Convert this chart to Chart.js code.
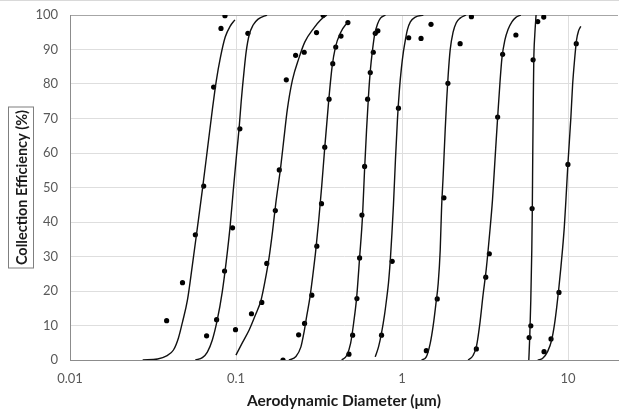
<!DOCTYPE html>
<html>
<head>
<meta charset="utf-8">
<script src="https://cdn.jsdelivr.net/npm/chart.js@4/dist/chart.umd.min.js"></script>
<style>
  html, body { margin: 0; padding: 0; background: #fff; overflow: hidden; }
  #wrap { width: 619px; height: 417px; overflow: hidden; }
</style>
</head>
<body>
<div id="wrap"><canvas id="chart" width="622" height="417"></canvas></div>
<script>
// axis ticks
const xTicks = [0.01, 0.1, 1, 10];
const yMin = 0, yMax = 100, yStep = 10;

// fitted curves, one pair per impactor stage
const stage1FitX = [0.0274, 0.0337, 0.0382, 0.0420, 0.0450, 0.0476, 0.0510, 0.0546, 0.0585, 0.0627, 0.0672, 0.0720, 0.0761, 0.0804, 0.0861, 0.0923, 0.0985];
const stage1FitY = [0, 0.3, 1.2, 2.9, 6.4, 11.0, 17.4, 27.5, 38.3, 49.3, 60.9, 72.5, 81.0, 87.5, 93.6, 96.8, 98.6];
const stage2FitX = [0.0569, 0.0627, 0.0672, 0.0720, 0.0771, 0.0826, 0.0873, 0.0923, 0.0962, 0.1003, 0.1045, 0.1074, 0.1120, 0.1151, 0.1200, 0.1268, 0.1359, 0.1538];
const stage2FitY = [0, 0.7, 2.3, 5.8, 11.6, 19.7, 28.5, 39.1, 49.0, 58.5, 67.5, 74.8, 84.1, 89.3, 94.2, 97.1, 98.8, 100];
const stage3FitX = [0.0999, 0.1089, 0.1200, 0.1303, 0.1416, 0.1496, 0.1581, 0.1660, 0.1735, 0.1858, 0.1945, 0.2036, 0.2188, 0.2393, 0.2599, 0.2943, 0.3242, 0.3522];
const stage3FitY = [1.4, 4.9, 8.7, 12.8, 17.4, 22.9, 29.6, 37.3, 45.3, 55.9, 64.3, 72.5, 81.2, 87.5, 92.2, 96.2, 98.6, 100];
const stage4FitX = [0.2084, 0.2296, 0.2460, 0.2563, 0.2672, 0.2785, 0.2903, 0.3025, 0.3154, 0.3287, 0.3426, 0.3621, 0.3789, 0.3972, 0.4255, 0.4559, 0.4838];
const stage4FitY = [0, 1.0, 3.8, 7.8, 13.0, 18.0, 24.6, 31.9, 40.8, 50.7, 61.7, 75.4, 84.9, 90.7, 94.8, 97.1, 98.0];
const stage5FitX = [0.4333, 0.4642, 0.4905, 0.5111, 0.5327, 0.5552, 0.5786, 0.5948, 0.6115, 0.6286, 0.6463, 0.6644, 0.6830, 0.7119, 0.7419, 0.7950];
const stage5FitY = [0, 1.3, 4.9, 10.7, 18.0, 29.6, 42.0, 55.1, 66.7, 76.8, 84.6, 89.9, 94.2, 97.4, 99.1, 100];
const stage6FitX = [0.6896, 0.7219, 0.7523, 0.7841, 0.8061, 0.8287, 0.8519, 0.8697, 0.8879, 0.9128, 0.9383, 0.9645, 0.9915, 1.0193, 1.0478, 1.0772, 1.1226, 1.2031, 1.3437];
const stage6FitY = [0.9, 3.8, 7.8, 13.0, 17.4, 22.3, 29.6, 36.8, 44.9, 58.0, 69.6, 78.3, 84.6, 89.3, 92.8, 95.7, 98.0, 99.4, 100];
const stage7FitX = [1.3122, 1.4001, 1.4796, 1.5423, 1.5965, 1.6526, 1.6986, 1.7294, 1.7704, 1.8200, 1.8581, 1.8970, 1.9502, 2.0327, 2.1187, 2.2387, 2.4322];
const stage7FitY = [0, 0.9, 4.9, 10.1, 15.9, 22.3, 31.9, 43.5, 53.6, 66.7, 75.4, 82.6, 89.9, 95.1, 97.7, 99.1, 100];
const stage8FitX = [2.5003, 2.6792, 2.8119, 2.9512, 3.0761, 3.2192, 3.3741, 3.5073, 3.6305, 3.7684, 3.8892, 3.9983, 4.1673, 4.3436, 4.5910, 4.8520, 5.1958];
const stage8FitY = [0, 1.3, 4.1, 11.0, 18.8, 26.5, 36.8, 46.4, 58.0, 70.4, 80.3, 87.5, 92.8, 95.7, 98.0, 99.3, 100];
const stage9FitX = [5.8046, 5.8853, 5.9672, 6.0502, 6.0921, 6.1344, 6.1769, 6.2198, 6.3063, 6.4193];
const stage9FitY = [0, 7.2, 17.4, 31.9, 43.5, 60.9, 75.4, 87.0, 94.2, 100];
const stage10FitX = [6.5724, 7.0408, 7.5443, 7.9714, 8.3088, 8.5421, 8.7798, 9.0632, 9.4993, 9.7119, 9.9839, 10.406, 10.654, 10.950, 11.257, 11.572, 11.944];
const stage10FitY = [0, 0.5, 2.5, 5.8, 10.7, 15.2, 20.3, 27.0, 38.6, 46.4, 56.8, 70.4, 79.7, 87.0, 92.8, 95.4, 96.7];

// measured points
const stage1DotX = [0.0382, 0.0476, 0.0569, 0.0639, 0.0733, 0.0812, 0.0858];
const stage1DotY = [11.4, 22.4, 36.3, 50.4, 79.1, 96.1, 99.8];
const stage2DotX = [0.0665, 0.0764, 0.0853, 0.0953, 0.1055, 0.1179];
const stage2DotY = [7.0, 11.7, 25.8, 38.3, 67.0, 94.7];
const stage3DotX = [0.0993, 0.1239, 0.1430, 0.1532, 0.1725, 0.1823, 0.2009, 0.2286, 0.2574, 0.3055, 0.3347];
const stage3DotY = [8.8, 13.4, 16.7, 28.0, 43.3, 55.1, 81.2, 88.3, 89.2, 94.9, 99.9];
const stage4DotX = [0.1919, 0.2383, 0.2588, 0.2863, 0.3068, 0.3273, 0.3425, 0.3636, 0.3826, 0.3988, 0.4290, 0.4720];
const stage4DotY = [0, 7.3, 10.6, 18.8, 33.0, 45.3, 61.7, 75.6, 85.9, 90.7, 93.9, 97.8];
const stage5DotX = [0.4791, 0.5041, 0.5350, 0.5553, 0.5734, 0.5952, 0.6204, 0.6439, 0.6713, 0.6900, 0.7153];
const stage5DotY = [1.7, 7.2, 17.8, 29.6, 42.0, 56.1, 75.6, 83.3, 89.2, 94.7, 95.4];
const stage6DotX = [0.7527, 0.8723, 0.9515, 1.097, 1.302, 1.495];
const stage6DotY = [7.2, 28.6, 73.0, 93.4, 93.2, 97.3];
const stage7DotX = [1.401, 1.630, 1.788, 1.890, 2.239, 2.618];
const stage7DotY = [2.7, 17.7, 47.0, 80.2, 91.7, 99.5];
const stage8DotX = [2.804, 3.194, 3.357, 3.768, 4.037, 4.852];
const stage8DotY = [3.2, 24.0, 30.8, 70.4, 88.6, 94.2];
const stage9DotX = [5.830, 5.968, 6.076, 6.160, 6.572, 7.140];
const stage9DotY = [6.5, 9.9, 43.9, 87.0, 98.1, 99.4];
const stage10DotX = [7.170, 7.900, 8.820, 9.986, 11.21];
const stage10DotY = [2.4, 6.1, 19.6, 56.7, 91.7];

const stages = [
  [stage1FitX, stage1FitY, stage1DotX, stage1DotY],
  [stage2FitX, stage2FitY, stage2DotX, stage2DotY],
  [stage3FitX, stage3FitY, stage3DotX, stage3DotY],
  [stage4FitX, stage4FitY, stage4DotX, stage4DotY],
  [stage5FitX, stage5FitY, stage5DotX, stage5DotY],
  [stage6FitX, stage6FitY, stage6DotX, stage6DotY],
  [stage7FitX, stage7FitY, stage7DotX, stage7DotY],
  [stage8FitX, stage8FitY, stage8DotX, stage8DotY],
  [stage9FitX, stage9FitY, stage9DotX, stage9DotY],
  [stage10FitX, stage10FitY, stage10DotX, stage10DotY],
];

const zip = (xs, ys) => xs.map((x, i) => ({ x, y: ys[i] }));

const lineSets = stages.map(([fx, fy]) => ({
  type: "line",
  data: zip(fx, fy),
  borderColor: "#111",
  borderWidth: 1.4,
  pointRadius: 0,
  fill: false,
  cubicInterpolationMode: "monotone",
}));

const dotSets = stages.map(([, , dx, dy]) => ({
  type: "scatter",
  data: zip(dx, dy),
  backgroundColor: "#000",
  borderWidth: 0,
  pointRadius: 2.6,
}));

const tickFont = { family: "Lato", size: 13 };
const titleFont = { family: "Lato", size: 15.5, weight: "bold" };

// boxed y title, drawn by hand (Chart.js has no border for axis titles)
const yTitleBox = {
  id: "yTitleBox",
  afterDraw(chart) {
    const { ctx, chartArea } = chart;
    const cy = (chartArea.top + chartArea.bottom) / 2;
    const text = "Collection Efficiency (%)";
    ctx.save();
    ctx.translate(21, cy);
    ctx.rotate(-Math.PI / 2);
    ctx.font = "bold 14.5px Lato";
    ctx.fillStyle = "#1a1a1a";
    ctx.textAlign = "center";
    ctx.textBaseline = "middle";
    ctx.fillText(text, 0, 1);
    const w = ctx.measureText(text).width + 6;
    ctx.strokeStyle = "#7f7f7f";
    ctx.lineWidth = 1;
    ctx.strokeRect(Math.round(-w / 2) + 0.5, -12.5, Math.round(w), 25);
    ctx.restore();
    // faint outer frame line at the very top
    ctx.save();
    ctx.strokeStyle = "#d9d9d9";
    ctx.beginPath();
    ctx.moveTo(0, 0.5);
    ctx.lineTo(chart.width, 0.5);
    ctx.stroke();
    ctx.restore();
  },
};

new Chart(document.getElementById("chart"), {
  data: { datasets: [...lineSets, ...dotSets] },
  options: {
    responsive: false,
    animation: false,
    layout: { padding: { top: 15, right: 1, left: 0, bottom: 0 } },
    plugins: { legend: { display: false }, tooltip: { enabled: false } },
    scales: {
      x: {
        type: "logarithmic",
        min: 0.01,
        max: 20,
        afterBuildTicks: (s) => { s.ticks = xTicks.map((v) => ({ value: v })); },
        afterFit: (s) => { s.height = 57; },
        ticks: {
          autoSkip: false,
          maxRotation: 0,
          padding: 11,
          color: "#595959",
          font: tickFont,
          callback: (v) => String(v),
        },
        grid: { color: "#dedede", drawTicks: false },
        border: { color: "#8c8c8c" },
        title: {
          display: true,
          text: "Aerodynamic Diameter (μm)",
          color: "#1a1a1a",
          font: titleFont,
          padding: { top: 0, bottom: 7 },
        },
      },
      y: {
        min: yMin,
        max: yMax,
        // fixed width, and no extra top/bottom room from the tick padding
        afterFit: (s) => { s.width = 70; s.paddingTop = 0; s.paddingBottom = 0; },
        ticks: { stepSize: yStep, padding: 12, color: "#595959", font: tickFont },
        grid: {
          color: (c) => (c.tick && c.tick.value === yMax ? "#a6a6a6" : "#dedede"),
          drawTicks: false,
        },
        border: { color: "#8c8c8c" },
      },
    },
  },
  plugins: [yTitleBox],
});
</script>
</body>
</html>
